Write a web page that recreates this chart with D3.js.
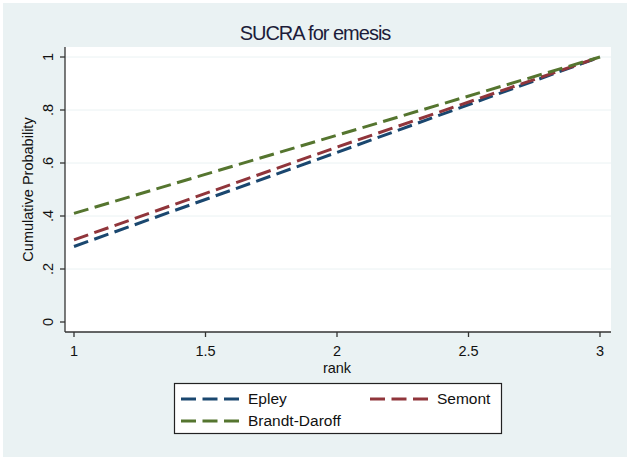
<!DOCTYPE html>
<html>
<head>
<meta charset="utf-8">
<script src="https://cdn.jsdelivr.net/npm/d3@7"></script>
<style>
  body { margin: 0; background: #fff; }
  svg { display: block; font-family: "Liberation Sans", Arial, sans-serif; }
</style>
</head>
<body>
<div id="chart"></div>
<script>
// SUCRA cumulative ranking probabilities
const ranks = [1, 2, 3];
const epley = [0.285, 0.64, 1];
const semont = [0.31, 0.66, 1];
const brandtDaroff = [0.41, 0.705, 1];
const seriesNames = ["Epley", "Semont", "Brandt-Daroff"];
const seriesColors = ["#1a476f", "#90353b", "#55752f"];
const xTicks = [1, 1.5, 2, 2.5, 3];
const yTicks = [0, 0.2, 0.4, 0.6, 0.8, 1];

const W = 630, H = 460;
const svg = d3.select("#chart").append("svg")
    .attr("width", W).attr("height", H);

// outer background
svg.append("rect").attr("x", 3).attr("y", 3)
    .attr("width", W - 6).attr("height", H - 6)
    .attr("fill", "#eaf2f3");

// plot region
const plot = {left: 65, right: 611, top: 47, bottom: 332};
svg.append("rect")
    .attr("x", plot.left).attr("y", plot.top)
    .attr("width", plot.right - plot.left).attr("height", plot.bottom - plot.top)
    .attr("fill", "#fff");

const x = d3.scaleLinear().domain([1, 3]).range([74, 600]);
const y = d3.scaleLinear().domain([0, 1]).range([322, 57]);

// gridlines
svg.append("g").selectAll("line")
    .data(yTicks.slice(1))
    .join("line")
    .attr("x1", plot.left).attr("x2", plot.right)
    .attr("y1", d => y(d)).attr("y2", d => y(d))
    .attr("stroke", "#eaf2f3").attr("stroke-width", 1);

const fmt = d => d === 0 ? "0" : d === 1 ? "1" : String(d).replace(/^0/, "");

// y axis
const yAxis = svg.append("g");
yAxis.append("line")
    .attr("x1", plot.left).attr("x2", plot.left)
    .attr("y1", plot.top).attr("y2", plot.bottom)
    .attr("stroke", "#333").attr("stroke-width", 1.3);
yAxis.selectAll(".tk").data(yTicks).join("line")
    .attr("x1", plot.left - 5).attr("x2", plot.left)
    .attr("y1", d => y(d)).attr("y2", d => y(d))
    .attr("stroke", "#333").attr("stroke-width", 1.3);
yAxis.selectAll("text").data(yTicks).join("text")
    .attr("transform", d => `translate(53,${y(d)}) rotate(-90)`)
    .attr("text-anchor", "middle")
    .attr("font-size", 14.5)
    .attr("fill", "#111")
    .text(fmt);

// x axis
const xAxis = svg.append("g");
xAxis.append("line")
    .attr("x1", plot.left).attr("x2", plot.right)
    .attr("y1", plot.bottom).attr("y2", plot.bottom)
    .attr("stroke", "#333").attr("stroke-width", 1.3);
xAxis.selectAll(".tk").data(xTicks).join("line")
    .attr("x1", d => x(d)).attr("x2", d => x(d))
    .attr("y1", plot.bottom).attr("y2", plot.bottom + 5)
    .attr("stroke", "#333").attr("stroke-width", 1.3);
xAxis.selectAll("text").data(xTicks).join("text")
    .attr("x", d => x(d)).attr("y", 356)
    .attr("text-anchor", "middle")
    .attr("font-size", 14.5)
    .attr("fill", "#111")
    .text(d => String(d));

// axis titles
svg.append("text")
    .attr("x", (x(1) + x(3)) / 2).attr("y", 373)
    .attr("text-anchor", "middle")
    .attr("font-size", 14.5).attr("fill", "#111")
    .text("rank");
svg.append("text")
    .attr("transform", `translate(33,${(y(0) + y(1)) / 2}) rotate(-90)`)
    .attr("text-anchor", "middle")
    .attr("font-size", 14.5).attr("fill", "#111")
    .text("Cumulative Probability");

// title
svg.append("text")
    .attr("x", W / 2).attr("y", 40)
    .attr("text-anchor", "middle")
    .attr("font-size", 20).attr("fill", "#1c1c3a")
    .attr("letter-spacing", -1)
    .text("SUCRA for emesis");

// lines
const allSeries = [epley, semont, brandtDaroff];
const line = d3.line().x((d, i) => x(ranks[i])).y(d => y(d));
svg.append("g").selectAll("path")
    .data(allSeries)
    .join("path")
    .attr("d", d => line(d))
    .attr("fill", "none")
    .attr("stroke", (d, i) => seriesColors[i])
    .attr("stroke-width", 3)
    .attr("stroke-dasharray", "15,6.5");

// legend
const legend = svg.append("g");
legend.append("rect")
    .attr("x", 174.5).attr("y", 383.5)
    .attr("width", 327).attr("height", 50)
    .attr("fill", "#fff").attr("stroke", "#222").attr("stroke-width", 1.2);
const legPos = [[181, 399], [370, 399], [181, 421]];
seriesNames.forEach((name, i) => {
    const [lx, ly] = legPos[i];
    legend.append("line")
        .attr("x1", lx).attr("x2", lx + 58)
        .attr("y1", ly).attr("y2", ly)
        .attr("stroke", seriesColors[i]).attr("stroke-width", 3)
        .attr("stroke-dasharray", "15,6.5");
    legend.append("text")
        .attr("x", lx + 67).attr("y", ly + 5)
        .attr("font-size", 15.5).attr("fill", "#111")
        .text(name);
});
</script>
</body>
</html>
